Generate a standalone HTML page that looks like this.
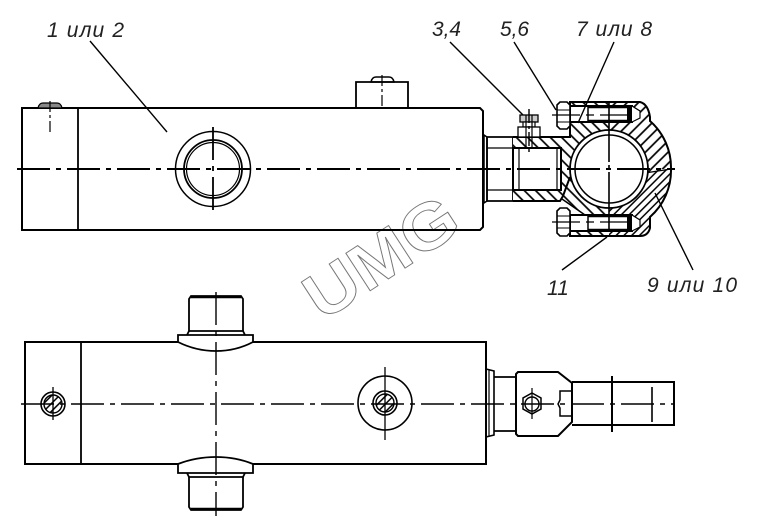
<!DOCTYPE html>
<html><head><meta charset="utf-8">
<style>html,body{margin:0;padding:0;background:#fff;width:761px;height:532px;overflow:hidden}svg{display:block}
text{font-family:"Liberation Sans",sans-serif;font-style:italic;font-size:21px;fill:#222}</style></head>
<body>
<svg width="761" height="532" viewBox="0 0 761 532" xmlns="http://www.w3.org/2000/svg">
<defs>
<pattern id="hf" width="8" height="8" patternUnits="userSpaceOnUse" patternTransform="rotate(45)"><rect width="8" height="8" fill="#fff"/><line x1="4" y1="0" x2="4" y2="8" stroke="#000" stroke-width="1.7"/></pattern>
<pattern id="hb" width="8" height="8" patternUnits="userSpaceOnUse" patternTransform="rotate(-45)"><rect width="8" height="8" fill="#fff"/><line x1="4" y1="0" x2="4" y2="8" stroke="#000" stroke-width="1.7"/></pattern>
<pattern id="ht" width="5.5" height="5.5" patternUnits="userSpaceOnUse" patternTransform="rotate(45)"><rect width="5.5" height="5.5" fill="#fff"/><line x1="2.7" y1="0" x2="2.7" y2="5.5" stroke="#000" stroke-width="1.5"/></pattern>
<clipPath id="cl"><rect x="500" y="90" width="109" height="160"/></clipPath>
<clipPath id="cru"><rect x="609" y="90" width="80" height="79"/></clipPath>
<clipPath id="crl"><rect x="609" y="169" width="80" height="80"/></clipPath>
</defs>

<!-- watermark -->
<text transform="translate(322,322) rotate(-33) scale(1.12,1)" style="font-style:normal;font-weight:bold;font-size:65px;fill:#fff;stroke:#777;stroke-width:.9">UMG</text>

<g fill="none" stroke="#000" stroke-width="1.8">
<!-- TOP VIEW body -->
<path d="M22 108H480L483 111V227L480 230H22Z" stroke-width="2"/>
<line x1="78" y1="108" x2="78" y2="230"/>
<path d="M38 108Q39 103 43 103H57Q61 103 62 108Z" fill="#888" stroke-width="1.2"/>
<path d="M356 108V82H408V108" />
<path d="M371 82Q372 77 376 77H389Q393 77 394 82Z" stroke-width="1.5"/>
<circle cx="213" cy="169" r="37.5" stroke-width="1.5"/>
<circle cx="213" cy="169" r="29" stroke-width="1.8"/>
<circle cx="213" cy="169" r="26.5" stroke-width="1.2"/>

<!-- rod & hex -->
<path d="M484 135L487 137V201L484 203Z" stroke-width="1.5"/>
<path d="M487 137H513V201H487Z"/>
<line x1="487" y1="148" x2="513" y2="148" stroke-width="1.2"/>
<line x1="487" y1="190" x2="513" y2="190" stroke-width="1.2"/>

<!-- clevis section -->
<path d="M513 137H570V102H640Q648 104 650 117V121L609 169V236H570V215H585L562 199L560 201H513Z" fill="url(#hb)" clip-path="url(#cl)" stroke="none"/>
<path d="M609 102H640Q648 104 650 117V121A62 62 0 0 1 671 169H609Z" fill="url(#hf)" clip-path="url(#cru)" stroke="none"/>
<path d="M609 169H671A62 62 0 0 1 650 217V228Q648 236 640 236H609Z" fill="url(#ht)" clip-path="url(#crl)" stroke="none"/>
<path d="M513 137H570V102H640Q648 104 650 117V121A62 62 0 0 1 671 169A62 62 0 0 1 650 217V228Q648 236 640 236H570V215" stroke-width="2"/>
<path d="M513 201H560L563 196L570 177" stroke-width="2"/>
<path d="M562 199L585 215" stroke-width="1.5"/>
<path d="M645 173L671 169" stroke-width="1.2"/>

<!-- hole in neck -->
<rect x="513" y="148" width="48" height="42" fill="#fff" stroke-width="2"/>
<line x1="519" y1="148" x2="519" y2="190" stroke-width="1.2"/>
<line x1="557" y1="148" x2="557" y2="190" stroke-width="1.2"/>

<!-- bore -->
<circle cx="609" cy="169" r="39" fill="#fff" stroke-width="1.8"/>
<circle cx="609" cy="169" r="34" stroke-width="1.5"/>

<!-- upper bolt -->
<path d="M570 106H632V122H570Z" fill="#fff" stroke-width="2"/>
<path d="M588 106V122" stroke-width="1.5"/>
<path d="M588 107H632M588 121H632" stroke-width="2.6"/>
<path d="M627 106H632V122H627Z" fill="#000" stroke="none"/>
<path d="M632 106L640 111V118L632 122" fill="#fff" stroke-width="1.2"/>
<path d="M557 105L560 102H567L570 105V126L567 129H560L557 126Z" fill="#fff" stroke-width="1.6"/>
<line x1="557" y1="110" x2="570" y2="110" stroke-width="1"/>
<line x1="557" y1="122" x2="570" y2="122" stroke-width="1"/>

<!-- lower bolt -->
<path d="M570 215H632V231H570Z" fill="#fff" stroke-width="2"/>
<path d="M588 215V231" stroke-width="1.5"/>
<path d="M588 216H632M588 230H632" stroke-width="2.6"/>
<path d="M627 215H632V231H627Z" fill="#000" stroke="none"/>
<path d="M632 215L640 220V227L632 231" fill="#fff" stroke-width="1.2"/>
<path d="M557 211L560 208H567L570 211V233L567 236H560L557 233Z" fill="#fff" stroke-width="1.6"/>
<line x1="557" y1="216" x2="570" y2="216" stroke-width="1"/>
<line x1="557" y1="228" x2="570" y2="228" stroke-width="1"/>

<!-- fitting 3,4 -->
<rect x="520" y="115" width="18" height="7" fill="#ccc" stroke-width="1.3"/>
<rect x="523" y="122" width="12" height="5" fill="#fff" stroke-width="1.2"/>
<rect x="518" y="127" width="22" height="10" fill="#fff" stroke-width="1.3"/>
<path d="M526 115V148M532 115V148" stroke-width="1.2"/>

<!-- BOTTOM VIEW -->
<rect x="25" y="342" width="461" height="122" stroke-width="2"/>
<line x1="81" y1="342" x2="81" y2="464"/>
<!-- upper port -->
<path d="M189 332V299L191 296H241L243 299V332" fill="#fff"/>
<path d="M191 297H241" stroke-width="2.4"/>
<path d="M187 335L189 331H243L245 335" fill="#fff"/>
<path d="M178 335H253V342Q236 351 216 351Q196 351 178 342Z" fill="#fff"/>
<!-- lower port -->
<path d="M189 474V507L191 510H241L243 507V474" fill="#fff"/>
<path d="M191 509H241" stroke-width="2.4"/>
<path d="M187 473L189 477H243L245 473" fill="#fff"/>
<path d="M178 473H253V464Q236 457 216 457Q196 457 178 464Z" fill="#fff"/>

<!-- small plugs -->
<circle cx="53" cy="404" r="12" stroke-width="1.6"/>
<circle cx="53" cy="404" r="9" fill="url(#ht)" stroke-width="1.4"/>
<circle cx="385" cy="403" r="27" stroke-width="1.6"/>
<circle cx="385" cy="403" r="12" stroke-width="1.6"/>
<circle cx="385" cy="403" r="9" fill="url(#ht)" stroke-width="1.4"/>

<!-- right assembly bottom -->
<path d="M486 369L494 371V435L486 437Z" stroke-width="1.6"/>
<line x1="489" y1="370" x2="489" y2="436" stroke-width="1.2"/>
<path d="M494 377H516M494 431H516"/>
<path d="M518 372H558L572 383V422L558 436H518L516 434V374Z" stroke-width="2"/>
<path d="M572 382H674V425H572" stroke-width="2"/>
<line x1="612" y1="376" x2="612" y2="432" stroke-width="2"/>
<line x1="652" y1="387" x2="652" y2="422" stroke-width="1.6"/>
<path d="M532 393L541 398V409L532 414L523 409V398Z" stroke-width="1.5"/>
<circle cx="532" cy="404" r="7" stroke-width="1.4"/>
<line x1="532" y1="388" x2="532" y2="419" stroke-width="1.2"/>
<path d="M560 391H572V416H560V408L558 404L560 400Z" stroke-width="1.5"/>
</g>

<!-- centre lines -->
<g fill="none" stroke="#000">
<line x1="17" y1="169" x2="675" y2="169" stroke-width="2" stroke-dasharray="33 6 5 6"/>
<line x1="21" y1="404" x2="674" y2="404" stroke-width="1.5" stroke-dasharray="33 6 5 6"/>
<line x1="50" y1="101" x2="50" y2="133" stroke-width="1.2" stroke-dasharray="11 3 3 3"/>
<line x1="382" y1="75" x2="382" y2="108" stroke-width="1.2" stroke-dasharray="11 3 3 3"/>
<line x1="213" y1="127" x2="213" y2="211" stroke-width="1.8" stroke-dasharray="33 6 5 6"/>
<line x1="609" y1="102" x2="609" y2="236" stroke-width="1.6" stroke-dasharray="60 3 4 3"/>
<line x1="529" y1="109" x2="529" y2="155" stroke-width="1.4" stroke-dasharray="14 3 3 3"/>
<line x1="552" y1="115" x2="632" y2="115" stroke-width="1.3" stroke-dasharray="28 6 8 6"/>
<line x1="552" y1="222" x2="632" y2="222" stroke-width="1.3" stroke-dasharray="28 6 8 6"/>
<line x1="216" y1="292" x2="216" y2="516" stroke-width="1.4" stroke-dasharray="33 6 5 6"/>
<line x1="53" y1="387" x2="53" y2="420" stroke-width="1.3"/>
<line x1="385" y1="367" x2="385" y2="440" stroke-width="1.3"/>
</g>

<!-- leaders -->
<g fill="none" stroke="#000" stroke-width="1.4">
<line x1="90" y1="41" x2="167" y2="132"/>
<line x1="450" y1="42" x2="523" y2="115"/>
<line x1="514" y1="42" x2="556" y2="110"/>
<line x1="614" y1="42" x2="578" y2="123"/>
<line x1="607" y1="237" x2="562" y2="270"/>
<line x1="655" y1="193" x2="693" y2="270"/>
</g>

<text x="47" y="37" textLength="77" lengthAdjust="spacing">1 или 2</text>
<text x="432" y="36" textLength="29" lengthAdjust="spacingAndGlyphs">3,4</text>
<text x="500" y="36" textLength="29" lengthAdjust="spacingAndGlyphs">5,6</text>
<text x="576" y="36" textLength="76" lengthAdjust="spacing">7 или 8</text>
<text x="547" y="295">11</text>
<text x="647" y="292" textLength="90" lengthAdjust="spacing">9 или 10</text>
</svg>
</body></html>
